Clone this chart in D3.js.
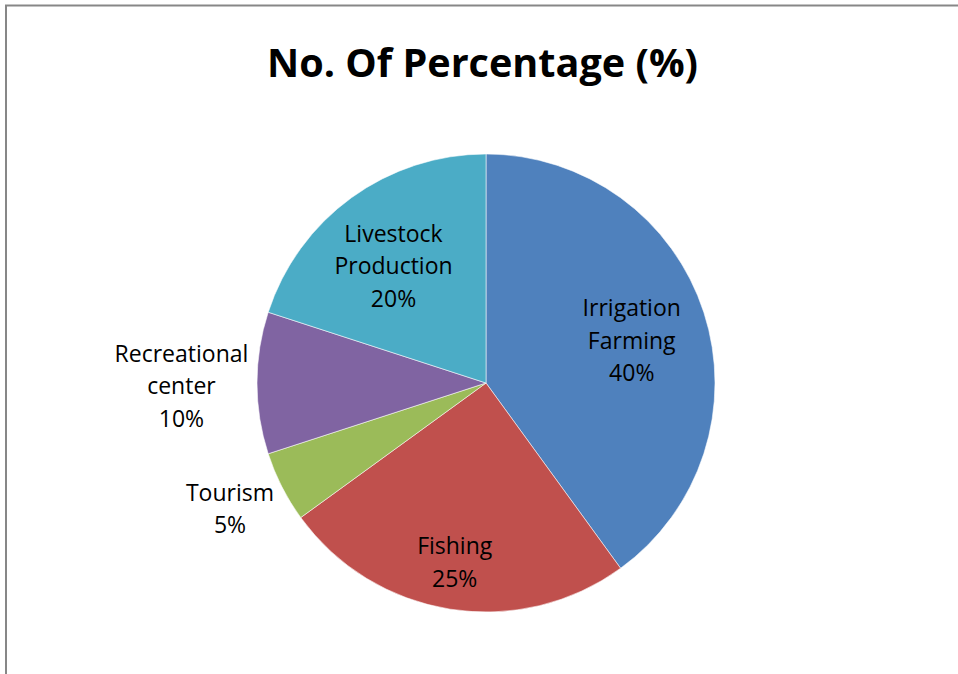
<!DOCTYPE html>
<html>
<head>
<meta charset="utf-8">
<script src="https://cdn.jsdelivr.net/npm/d3@7"></script>
<style>
  html, body { margin: 0; padding: 0; background: #fff; }
  svg { display: block; }
</style>
</head>
<body>
<svg id="chart" width="958" height="674"></svg>
<script>
// Share of water use by activity
const categories = ["Irrigation Farming", "Fishing", "Tourism", "Recreational center", "Livestock Production"];
const percentages = [40, 25, 5, 10, 20];
const colors = ["#4F81BD", "#C0504D", "#9BBB59", "#8064A2", "#4BACC6"];
const title = "No. Of Percentage (%)";

const width = 958, height = 674;
const cx = 486, cy = 383, radius = 229;

// Label placement: radial distance of each block centre (multiple of radius)
// plus a small pixel nudge, so small slices get their labels outside the pie
const labelRadius = [0.66, 0.79, 1.245, 1.33, 0.65];
const labelNudge = [[2, 5], [-3, 1.5], [-2, -3], [0, 4], [-5, 4.5]];
const lineHeight = 32.4;
const labelSize = 23;
const capHeight = 0.64 * labelSize;
const fontFamily = "'Open Sans', Lato, sans-serif";

const svg = d3.select("#chart");

// Chart frame (left and top edges)
svg.append("path")
  .attr("d", `M6,${height} L6,5.5 L${width},5.5`)
  .attr("fill", "none")
  .attr("stroke", "#878787")
  .attr("stroke-width", 2);

svg.append("text")
  .attr("x", 482.5)
  .attr("y", 77)
  .attr("text-anchor", "middle")
  .attr("font-family", fontFamily)
  .attr("font-weight", "bold")
  .attr("font-size", 39.6)
  .attr("fill", "#000")
  .text(title);

const pie = d3.pie().sort(null).value(d => d.value);
const data = categories.map((c, i) => ({
  name: c, value: percentages[i], color: colors[i],
  k: labelRadius[i], nudge: labelNudge[i]
}));
const arcs = pie(data);

const arc = d3.arc().innerRadius(0).outerRadius(radius);

const g = svg.append("g").attr("transform", `translate(${cx},${cy})`);

g.selectAll("path.slice")
  .data(arcs)
  .join("path")
  .attr("class", "slice")
  .attr("d", arc)
  .attr("fill", d => d.data.color)
  .attr("stroke", "rgba(255,255,255,0.55)")
  .attr("stroke-width", 1);

const labels = g.selectAll("text.label")
  .data(arcs)
  .join("text")
  .attr("class", "label")
  .attr("text-anchor", "middle")
  .attr("font-family", fontFamily)
  .attr("font-size", labelSize)
  .attr("fill", "#000");

labels.each(function(d) {
  const r = radius * d.data.k;
  const [x0, y0] = d3.arc().innerRadius(r).outerRadius(r).centroid(d);
  const x = x0 + d.data.nudge[0];
  const y = y0 + d.data.nudge[1];
  const lines = d.data.name.split(" ").concat([d.data.value + "%"]);
  const firstBaseline = y - (lines.length - 1) * lineHeight / 2 + capHeight / 2;
  d3.select(this).selectAll("tspan")
    .data(lines)
    .join("tspan")
    .attr("x", x)
    .attr("y", (t, i) => firstBaseline + i * lineHeight)
    .text(t => t);
});
</script>
</body>
</html>
